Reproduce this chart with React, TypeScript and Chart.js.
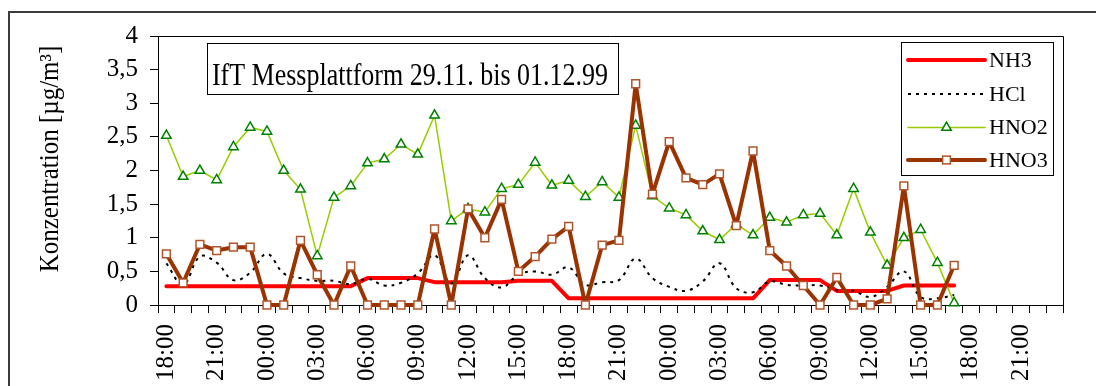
import React, { useEffect, useRef } from 'react';
import { Chart, registerables } from 'chart.js';

Chart.register(...registerables);

// Hourly measurement slots, 29.11. 18:00 to 01.12. 23:00
const hours: string[] = [
  '18:00', '19:00', '20:00', '21:00', '22:00', '23:00',
  '00:00', '01:00', '02:00', '03:00', '04:00', '05:00', '06:00', '07:00', '08:00', '09:00',
  '10:00', '11:00', '12:00', '13:00', '14:00', '15:00', '16:00', '17:00', '18:00', '19:00',
  '20:00', '21:00', '22:00', '23:00',
  '00:00', '01:00', '02:00', '03:00', '04:00', '05:00', '06:00', '07:00', '08:00', '09:00',
  '10:00', '11:00', '12:00', '13:00', '14:00', '15:00', '16:00', '17:00', '18:00', '19:00',
  '20:00', '21:00', '22:00', '23:00',
];

const nh3: number[] = [
  0.28, 0.28, 0.28, 0.28, 0.28, 0.28, 0.28, 0.28, 0.28, 0.28, 0.28, 0.28,
  0.40, 0.40, 0.40, 0.40,
  0.34, 0.34, 0.34, 0.34, 0.34,
  0.36, 0.36, 0.36,
  0.10, 0.10, 0.10, 0.10, 0.10, 0.10, 0.10, 0.10, 0.10, 0.10, 0.10, 0.10,
  0.37, 0.37, 0.37, 0.37,
  0.21, 0.21, 0.21, 0.21,
  0.29, 0.29, 0.29, 0.29,
];

const hcl: number[] = [
  0.62, 0.30, 0.72, 0.63, 0.37, 0.48, 0.76, 0.47, 0.40, 0.36, 0.36, 0.31,
  0.39, 0.29, 0.33, 0.47, 0.74, 0.32, 0.74, 0.40, 0.26, 0.45, 0.50, 0.45,
  0.56, 0.30, 0.34, 0.37, 0.69, 0.40, 0.27, 0.21, 0.35, 0.62, 0.25, 0.19,
  0.35, 0.30, 0.29, 0.29, 0.22, 0.21, 0.12, 0.27, 0.50, 0.12, 0.10, 0.15,
];

const hno2: number[] = [
  2.52, 1.91, 2.0, 1.86, 2.35, 2.64, 2.58, 2.0, 1.72, 0.73, 1.60, 1.77,
  2.11, 2.17, 2.39, 2.24, 2.82, 1.25, 1.43, 1.38, 1.73, 1.79, 2.12, 1.78,
  1.85, 1.61, 1.83, 1.60, 2.67, 1.62, 1.44, 1.34, 1.10, 0.97, 1.20, 1.04,
  1.30, 1.23, 1.34, 1.36, 1.04, 1.73, 1.08, 0.59, 1.00, 1.12, 0.63, 0.03,
];

const hno3: number[] = [
  0.76, 0.33, 0.90, 0.81, 0.86, 0.86, 0, 0, 0.96, 0.45, 0, 0.58,
  0, 0, 0, 0, 1.13, 0, 1.43, 1.00, 1.57, 0.50, 0.72, 0.98,
  1.17, 0, 0.89, 0.96, 3.29, 1.65, 2.43, 1.89, 1.79, 1.95, 1.18, 2.29,
  0.81, 0.58, 0.29, 0, 0.41, 0, 0, 0.09, 1.77, 0, 0, 0.59,
];

const yTicks: number[] = [0, 0.5, 1, 1.5, 2, 2.5, 3, 3.5, 4];

const chartTitle = 'IfT Messplattform 29.11. bis 01.12.99';
const yTitle = 'Konzentration [µg/m³]';

const SERIF = '"Liberation Serif", "Times New Roman", serif';
const RED = '#ff0000';
const BROWN = '#993300';
const LIME = '#99cc00';
const GREEN = '#008000';

const W = 1096;
const H = 440;

const decorations = {
  id: 'decorations',
  beforeDraw(chart: any) {
    const ctx: CanvasRenderingContext2D = chart.ctx;
    ctx.save();
    ctx.fillStyle = '#ffffff';
    ctx.fillRect(0, 0, chart.width, chart.height);
    // outer chart frame
    ctx.strokeStyle = '#3c3c3c';
    ctx.lineWidth = 2;
    ctx.strokeRect(9, 12, chart.width + 40, chart.height + 40);
    ctx.restore();
  },
  beforeDatasetsDraw(chart: any) {
    const ctx: CanvasRenderingContext2D = chart.ctx;
    const a = chart.chartArea;
    ctx.save();
    ctx.strokeStyle = '#000';
    ctx.lineWidth = 1;
    ctx.beginPath();
    ctx.moveTo(a.left, Math.round(a.top) + 0.5);
    ctx.lineTo(Math.round(a.right) + 0.5, Math.round(a.top) + 0.5);
    ctx.lineTo(Math.round(a.right) + 0.5, a.bottom);
    ctx.stroke();
    ctx.restore();
  },
  afterDraw(chart: any) {
    const ctx: CanvasRenderingContext2D = chart.ctx;
    ctx.save();

    // y axis title
    ctx.fillStyle = '#000';
    ctx.font = `25px ${SERIF}`;
    ctx.translate(51, 159);
    ctx.rotate(-Math.PI / 2);
    ctx.scale(1, 1.1);
    ctx.textAlign = 'center';
    ctx.textBaseline = 'middle';
    ctx.fillText(yTitle, 0, 0);
    ctx.setTransform(1, 0, 0, 1, 0, 0);

    // title box
    ctx.fillStyle = '#fff';
    ctx.fillRect(207.5, 43.5, 411, 51);
    ctx.strokeStyle = '#000';
    ctx.lineWidth = 1;
    ctx.strokeRect(207.5, 43.5, 411, 51);
    ctx.fillStyle = '#000';
    ctx.font = `26px ${SERIF}`;
    ctx.textAlign = 'center';
    ctx.textBaseline = 'alphabetic';
    ctx.translate(410, 85);
    ctx.scale(1, 1.2);
    ctx.fillText(chartTitle, 0, 0);
    ctx.setTransform(1, 0, 0, 1, 0, 0);

    // legend
    const lx = 901.5, ly = 42.5, lw = 152, lh = 133;
    ctx.fillStyle = '#fff';
    ctx.fillRect(lx, ly, lw, lh);
    ctx.strokeStyle = '#000';
    ctx.lineWidth = 1;
    ctx.strokeRect(lx, ly, lw, lh);
    const x0 = 908, x1 = 985, xm = (x0 + x1) / 2;
    const rows = [60, 94, 127.5, 160];
    chart.data.datasets.forEach((ds: any, i: number) => {
      const y = rows[i];
      ctx.save();
      ctx.strokeStyle = ds.borderColor;
      ctx.lineWidth = ds.borderWidth;
      ctx.setLineDash(ds.borderDash || []);
      ctx.lineCap = ds.borderDash ? 'butt' : 'round';
      ctx.beginPath();
      ctx.moveTo(x0, y);
      ctx.lineTo(x1, y);
      ctx.stroke();
      ctx.setLineDash([]);
      if (ds.pointStyle === 'triangle') {
        const r = ds.pointRadius;
        ctx.beginPath();
        ctx.moveTo(xm, y - r);
        ctx.lineTo(xm + r * Math.sin((2 * Math.PI) / 3), y - r * Math.cos((2 * Math.PI) / 3));
        ctx.lineTo(xm + r * Math.sin((4 * Math.PI) / 3), y - r * Math.cos((4 * Math.PI) / 3));
        ctx.closePath();
        ctx.fillStyle = ds.pointBackgroundColor;
        ctx.fill();
        ctx.strokeStyle = ds.pointBorderColor;
        ctx.lineWidth = ds.pointBorderWidth;
        ctx.stroke();
      } else if (ds.pointStyle === 'rect') {
        const s = ds.pointRadius * Math.SQRT1_2;
        ctx.fillStyle = ds.pointBackgroundColor;
        ctx.fillRect(xm - s, y - s, 2 * s, 2 * s);
        ctx.strokeStyle = ds.pointBorderColor;
        ctx.lineWidth = ds.pointBorderWidth;
        ctx.strokeRect(xm - s, y - s, 2 * s, 2 * s);
      }
      ctx.restore();
      ctx.fillStyle = '#000';
      ctx.font = `22px ${SERIF}`;
      ctx.textAlign = 'left';
      ctx.textBaseline = 'middle';
      ctx.fillText(ds.label, 989, y + 1);
    });

    ctx.restore();
  },
};

export default function App() {
  const canvasRef = useRef<HTMLCanvasElement | null>(null);

  useEffect(() => {
    const canvas = canvasRef.current;
    if (!canvas) return;
    const chart = new Chart(canvas, {
      type: 'line',
      data: {
        labels: hours,
        datasets: [
          {
            label: 'NH3',
            data: nh3,
            borderColor: RED,
            borderWidth: 4,
            borderJoinStyle: 'round',
            borderCapStyle: 'round',
            pointRadius: 0,
            tension: 0,
            order: 4,
            clip: false,
          } as any,
          {
            label: 'HCl',
            data: hcl,
            borderColor: '#000000',
            borderWidth: 2,
            borderDash: [3, 5],
            pointRadius: 0,
            tension: 0.4,
            order: 3,
            clip: false,
          },
          {
            label: 'HNO2',
            data: hno2,
            borderColor: LIME,
            borderWidth: 1.5,
            pointStyle: 'triangle',
            pointRadius: 5.5,
            pointBackgroundColor: '#ffffff',
            pointBorderColor: GREEN,
            pointBorderWidth: 1.5,
            tension: 0,
            order: 2,
            clip: false,
          },
          {
            label: 'HNO3',
            data: hno3,
            borderColor: BROWN,
            borderWidth: 4,
            borderJoinStyle: 'round',
            borderCapStyle: 'round',
            pointStyle: 'rect',
            pointRadius: 5.5,
            pointBackgroundColor: '#ffffff',
            pointBorderColor: '#b0552a',
            pointBorderWidth: 1.5,
            tension: 0,
            order: 1,
            clip: false,
          },
        ] as any,
      },
      options: {
        responsive: false,
        animation: false,
        devicePixelRatio: 1,
        events: [],
        layout: { padding: { top: 36, right: 30, left: 0, bottom: 0 } },
        plugins: {
          legend: { display: false },
          title: { display: false },
          tooltip: { enabled: false },
        },
        scales: {
          x: {
            type: 'category',
            offset: true,
            grid: {
              display: true,
              offset: true,
              drawOnChartArea: false,
              drawTicks: true,
              tickLength: 8,
              color: '#000',
              lineWidth: 1,
            },
            border: { display: true, color: '#000', width: 1 },
            ticks: {
              autoSkip: false,
              maxRotation: 90,
              minRotation: 90,
              padding: 11,
              color: '#000',
              font: { family: SERIF, size: 25 },
              callback: (_v: any, i: number) => (i % 3 === 0 ? hours[i] : ''),
            },
            afterFit: (scale: any) => {
              scale.height = H - 305;
            },
          },
          y: {
            min: yTicks[0],
            max: yTicks[yTicks.length - 1],
            afterBuildTicks: (scale: any) => {
              scale.ticks = yTicks.map((v) => ({ value: v }));
            },
            grid: {
              display: true,
              drawOnChartArea: false,
              drawTicks: true,
              tickLength: 8,
              color: '#000',
              lineWidth: 1,
            },
            border: { display: true, color: '#000', width: 1 },
            ticks: {
              padding: 12,
              color: '#000',
              font: { family: SERIF, size: 25 },
              callback: (v: any) => String(v).replace('.', ','),
            },
            afterFit: (scale: any) => {
              scale.width = 158;
            },
          },
        },
      } as any,
      plugins: [decorations],
    });
    return () => chart.destroy();
  }, []);

  return (
    <div
      style={{
        position: 'fixed',
        left: 0,
        top: 0,
        width: W,
        height: 386,
        overflow: 'hidden',
        background: '#fff',
      }}
    >
      <canvas ref={canvasRef} width={W} height={H} style={{ display: 'block', width: W, height: H }} />
    </div>
  );
}
